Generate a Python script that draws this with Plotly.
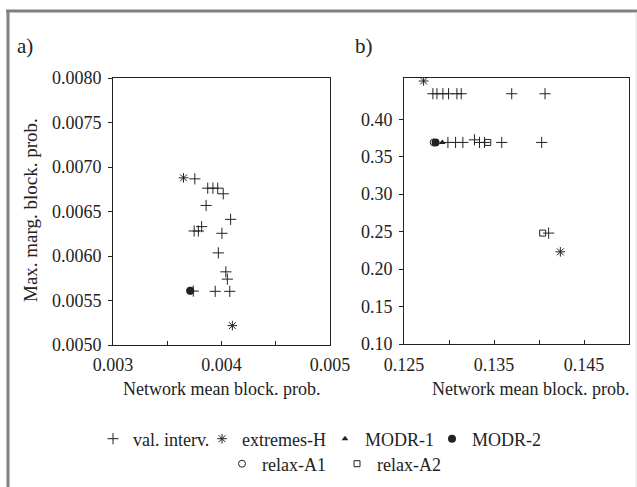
import plotly.graph_objects as go

W, H = 637, 487
def px(x):
    return x / W
def py(y):
    return 1 - y / H

FONT = "Liberation Serif"
INK = "#222222"
FS = 18

# ---------------- data: panel a ----------------
a_val_x = [0.003754, 0.003873, 0.003921, 0.003965, 0.004016, 0.003858, 0.004084,
           0.003817, 0.003748, 0.003787, 0.004004, 0.003971, 0.004040, 0.004054,
           0.003942, 0.004076, 0.003740]
a_val_y = [0.006867, 0.006762, 0.006762, 0.006762, 0.006699, 0.006568, 0.006412,
           0.006330, 0.006281, 0.006281, 0.006255, 0.006035, 0.005822, 0.005740,
           0.005603, 0.005603, 0.005606]
a_ext_x = [0.003650, 0.004100]
a_ext_y = [0.006878, 0.005218]
a_modr1_x = [0.003716]
a_modr1_y = [0.005608]
a_modr2_x = [0.003712]
a_modr2_y = [0.005610]
a_relaxA1_x = [0.003712]
a_relaxA1_y = [0.005610]

# ---------------- data: panel b ----------------
b_val_x = [0.12821, 0.12866, 0.12932, 0.12995, 0.13088, 0.13136, 0.13697, 0.14067,
           0.12988, 0.13073, 0.13154, 0.13283, 0.13339, 0.13394, 0.13586, 0.14030,
           0.14107]
b_val_y = [0.434, 0.434, 0.434, 0.434, 0.434, 0.434, 0.434, 0.434,
           0.369, 0.369, 0.369, 0.3725, 0.369, 0.369, 0.369, 0.369,
           0.248]
b_ext_x = [0.12718, 0.14237]
b_ext_y = [0.451, 0.223]
b_modr1_x = [0.12925]
b_modr1_y = [0.369]
b_modr2_x = [0.12851]
b_modr2_y = [0.369]
b_relaxA1_x = [0.12830]
b_relaxA1_y = [0.369]
b_relaxA2_x = [0.13431, 0.14041]
b_relaxA2_y = [0.369, 0.248]

# ---------------- tick labels ----------------
a_xticks = [0.003, 0.0035, 0.004, 0.0045, 0.005]
a_xtext = ["0.003", "", "0.004", "", "0.005"]
a_yticks = [0.0050, 0.0055, 0.0060, 0.0065, 0.0070, 0.0075, 0.0080]
a_ytext = ["0.0050", "0.0055", "0.0060", "0.0065", "0.0070", "0.0075", "0.0080"]
b_xticks = [0.125, 0.130, 0.135, 0.140, 0.145, 0.150]
b_xtext = ["0.125", "", "0.135", "", "0.145", ""]
b_yticks = [0.10, 0.15, 0.20, 0.25, 0.30, 0.35, 0.40]
b_ytext = ["0.10", "0.15", "0.20", "0.25", "0.30", "0.35", "0.40"]

series_names = ["val. interv.", "extremes-H", "MODR-1", "MODR-2", "relax-A1", "relax-A2"]

styles = {
    "val. interv.": dict(symbol="cross-thin", size=8, color=INK, line=dict(width=1, color=INK)),
    "extremes-H": dict(symbol="asterisk", size=8, color=INK, line=dict(width=1, color=INK)),
    "MODR-1": dict(symbol="triangle-up", size=6, color=INK, line=dict(width=0)),
    "MODR-2": dict(symbol="circle", size=8, color=INK, line=dict(width=0)),
    "relax-A1": dict(symbol="circle-open", size=7, color=INK, line=dict(width=1, color=INK)),
    "relax-A2": dict(symbol="square-open", size=6, color=INK, line=dict(width=1, color=INK)),
}
legend_of = {"val. interv.": "legend", "extremes-H": "legend", "MODR-1": "legend",
             "MODR-2": "legend", "relax-A1": "legend2", "relax-A2": "legend2"}
legend_w = {"val. interv.": 64, "extremes-H": 78, "MODR-1": 62, "MODR-2": None,
            "relax-A1": 70, "relax-A2": None}

panel_a = {
    "val. interv.": (a_val_x, a_val_y),
    "extremes-H": (a_ext_x, a_ext_y),
    "MODR-1": (a_modr1_x, a_modr1_y),
    "MODR-2": (a_modr2_x, a_modr2_y),
    "relax-A1": (a_relaxA1_x, a_relaxA1_y),
}
panel_b = {
    "val. interv.": (b_val_x, b_val_y),
    "extremes-H": (b_ext_x, b_ext_y),
    "MODR-1": (b_modr1_x, b_modr1_y),
    "MODR-2": (b_modr2_x, b_modr2_y),
    "relax-A1": (b_relaxA1_x, b_relaxA1_y),
    "relax-A2": (b_relaxA2_x, b_relaxA2_y),
}

fig = go.Figure()
for name in series_names:
    if name in panel_a:
        x, y = panel_a[name]
        fig.add_trace(go.Scatter(x=x, y=y, mode="markers", name=name, legendgroup=name,
                                 showlegend=False, marker=styles[name], xaxis="x", yaxis="y"))
for name in series_names:
    x, y = panel_b[name]
    tr = go.Scatter(x=x, y=y, mode="markers", name=name, legendgroup=name,
                    showlegend=True, legend=legend_of[name],
                    marker=styles[name], xaxis="x2", yaxis="y2")
    if legend_w[name]:
        tr.legendwidth = legend_w[name]
    fig.add_trace(tr)

tickfont = dict(family=FONT, size=FS, color=INK)
common = dict(showline=True, mirror=True, linecolor=INK, linewidth=1, showgrid=False,
              zeroline=False, tickfont=tickfont, tickcolor=INK, tickmode="array",
              automargin=False)

fig.update_layout(
    template="none",
    width=W, height=H,
    margin=dict(l=0, r=0, t=0, b=0, pad=0, autoexpand=False),
    paper_bgcolor="white", plot_bgcolor="white",
    font=dict(family=FONT, size=FS, color=INK),
    xaxis=dict(domain=[px(113), px(330)], range=[0.003, 0.005], anchor="y",
               tickvals=a_xticks, ticktext=a_xtext, ticks="inside", ticklen=4,
               ticklabelstandoff=3, **common),
    yaxis=dict(domain=[py(345), py(78)], range=[0.005, 0.008], anchor="x",
               tickvals=a_yticks, ticktext=a_ytext, ticks="outside", ticklen=4,
               ticklabelstandoff=3, **common),
    xaxis2=dict(domain=[px(404), px(629)], range=[0.125, 0.150], anchor="y2",
                tickvals=b_xticks, ticktext=b_xtext, ticks="inside", ticklen=4,
                ticklabelstandoff=4, **common),
    yaxis2=dict(domain=[py(344), py(78)], range=[0.10, 0.455], anchor="x2",
                tickvals=b_yticks, ticktext=b_ytext, ticks="outside", ticklen=4,
                ticklabelstandoff=3, **common),
    legend=dict(orientation="h", x=px(93), y=py(439), xanchor="left", yanchor="middle",
                font=dict(family=FONT, size=FS, color=INK), bgcolor="rgba(0,0,0,0)",
                itemwidth=30, borderwidth=0),
    legend2=dict(orientation="h", x=px(222), y=py(464), xanchor="left", yanchor="middle",
                 font=dict(family=FONT, size=FS, color=INK), bgcolor="rgba(0,0,0,0)",
                 itemwidth=30, borderwidth=0),
    showlegend=True,
)

def note(text, x, y, size=FS, angle=0):
    return dict(text=text, x=px(x), y=py(y), xref="paper", yref="paper", showarrow=False,
                xanchor="center", yanchor="middle", textangle=angle,
                font=dict(family=FONT, size=size, color=INK))

fig.update_layout(annotations=[
    note("a)", 25, 46, size=21),
    note("b)", 364, 46, size=21),
    note("Max. marg. block. prob.", 30, 210, size=19, angle=-90),
    note("Network mean block. prob.", 221, 389),
    note("Network mean block. prob.", 530, 389),
])

fig.update_layout(shapes=[
    dict(type="line", xref="paper", yref="paper", x0=px(6), x1=px(637), y0=py(11), y1=py(11),
         line=dict(color="#808080", width=3)),
    dict(type="line", xref="paper", yref="paper", x0=px(8), x1=px(8), y0=py(10), y1=py(487),
         line=dict(color="#808080", width=3)),
    dict(type="line", xref="paper", yref="paper", x0=px(636), x1=px(636), y0=py(12), y1=py(487),
         line=dict(color="#dddddd", width=1)),
])

fig.write_html("out.html")
